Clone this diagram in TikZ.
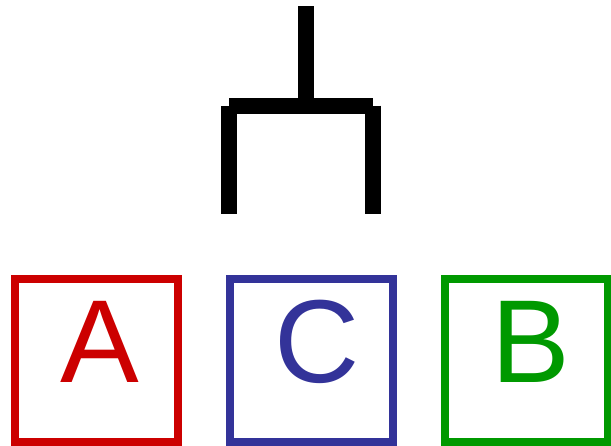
\documentclass[tikz,border=0pt]{standalone}
\usepackage{fontspec}
\setmainfont{Liberation Sans}
\definecolor{cred}{HTML}{CC0000}
\definecolor{cblue}{HTML}{333399}
\definecolor{cgreen}{HTML}{009900}
\begin{document}
\begin{tikzpicture}[x=1pt,y=-1pt,
  treeline/.style={line width=16pt,line cap=butt,black},
  leafbox/.style={draw,line width=8pt,minimum width=162.7pt,minimum height=162.7pt,inner sep=0pt},
  leaflabel/.style={anchor=base,inner sep=0pt,font=\fontsize{118}{120}\selectfont}]
\useasboundingbox (0,0) rectangle (611,445);
\coordinate (top) at (306,6.3);
\coordinate (mid) at (306,105.5);
\coordinate (bl) at (229,105.5);
\coordinate (br) at (373,105.5);
\coordinate (ll) at (229,214);
\coordinate (rl) at (373,214);
\draw[treeline] (top) -- (mid);
\draw[treeline] (bl) -- (br);
\draw[treeline] (bl) -- (ll);
\draw[treeline] (br) -- (rl);
\node[leafbox,draw=cred] (boxA) at (96.65,360.35) {};
\node[leafbox,draw=cblue] (boxC) at (311.5,360.35) {};
\node[leafbox,draw=cgreen] (boxB) at (526.2,360.35) {};
\node[leaflabel,text=cred] (labA) at (99.8,382.3) {A};
\node[leaflabel,text=cblue] (labC) at (316.7,382.3) {C};
\node[leaflabel,text=cgreen] (labB) at (530.8,382.3) {B};
\end{tikzpicture}
\end{document}
